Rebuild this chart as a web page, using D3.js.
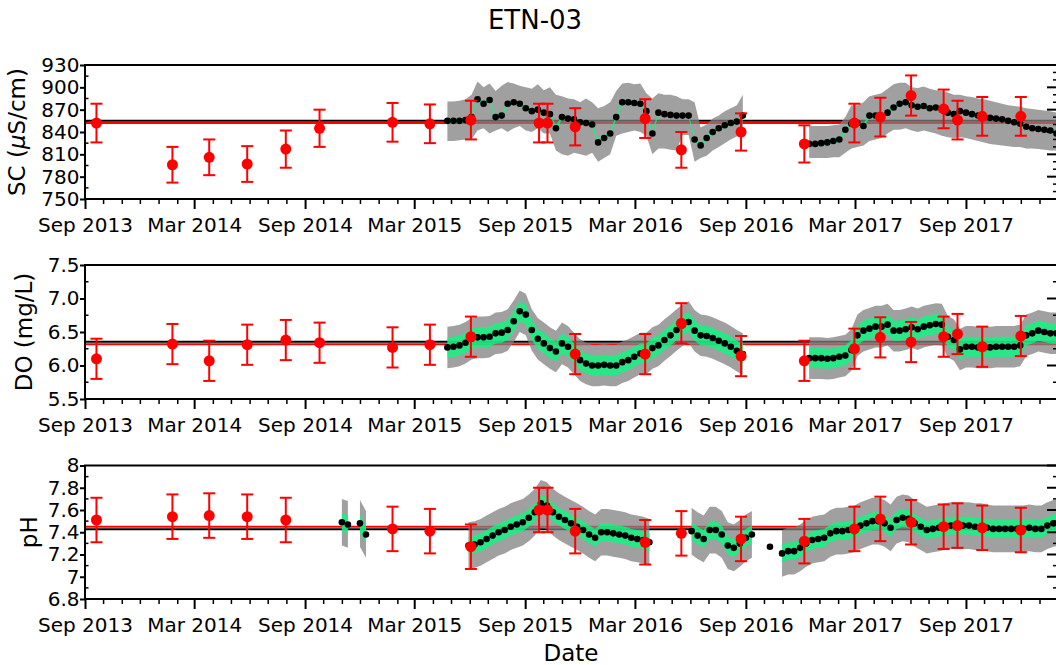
<!DOCTYPE html>
<html>
<head>
<meta charset="utf-8">
<script src="https://cdn.jsdelivr.net/npm/d3@7"></script>
<style>
  body { margin: 0; background: #fff; }
  svg { display: block; font-family: "DejaVu Sans", sans-serif; }
</style>
</head>
<body>
<svg id="chart" width="1056" height="665"></svg>
<script>
// ---------------------------------------------------------------
// ETN-03 : specific conductance, dissolved oxygen and pH
// Model predictions (dots + confidence bands) and field samples
// ---------------------------------------------------------------

// Field sample dates and values
const obsDates = ["2013-09-20","2014-01-24","2014-03-26","2014-05-28","2014-07-31","2014-09-25",
  "2015-01-24","2015-03-27","2015-06-03","2015-09-24","2015-10-08","2015-11-23","2016-03-18",
  "2016-05-17","2016-08-24","2016-12-07","2017-02-28","2017-04-12","2017-06-02","2017-07-26",
  "2017-08-18","2017-09-28","2017-12-01"];
const scObs  = [852,796,806,797,817,845,853,851,856,852,852,847,858,816,840,824,852,860,889,871,856,861,861];
const scErr  = [26,24,24,24,25,25,26,26,26,26,26,25,26,24,25,25,26,26,27,26,26,26,26];
const doObs  = [6.10,6.32,6.07,6.31,6.38,6.34,6.27,6.31,6.43,null,null,6.17,6.17,6.63,6.14,6.07,6.25,6.42,6.35,6.43,6.47,6.28,6.44];
const doErr  = [0.3,0.3,0.3,0.3,0.3,0.3,0.3,0.3,0.3,0.3,0.3,0.3,0.3,0.3,0.3,0.3,0.3,0.3,0.3,0.3,0.3,0.3,0.3];
const phObs  = [7.51,7.54,7.55,7.54,7.51,null,7.43,7.41,7.27,7.60,7.60,7.41,7.31,7.39,7.34,7.32,7.43,7.52,7.49,7.45,7.46,7.44,7.42];
const phErr  = [0.2,0.2,0.2,0.2,0.2,0.2,0.2,0.2,0.2,0.2,0.2,0.2,0.2,0.2,0.2,0.2,0.2,0.2,0.2,0.2,0.2,0.2,0.2];

// Model predictions, one value every 10 days from the start date (null = no prediction)
const predStepDays = 10;
const scPredStart = "2015-04-25";
const scPred = [855,855,855,856,860,884,878,883,860,862, 878,880,878,872,868,870,866,864,845,860,
  858,857,853,852,850,826,832,838,860,880, 880,879,878,868,838,866,864,863,862,862,
  862,830,822,832,840,845,849,852,854,862, null,null,null,null,null,null,null,null,null,null,
  824,824,825,826,828,830,843,851,852,848, 862,862,860,866,873,878,880,876,874,875,
  872,873,870,866,864,868,866,864,862,860, 859,858,857,855,853,851,847,845,844,843, 842,838];
const scBandHi = [881,881,882,884,890,908,900,905,895,902, 907,905,902,900,898,904,896,900,890,888,
  885,884,880,885,880,872,875,880,895,905, 906,904,905,892,885,892,890,890,888,884,
  884,880,846,850,858,862,868,872,876,890, null,null,null,null,null,null,null,null,null,null,
  848,848,848,848,849,850,860,876,876,880, 888,890,892,898,904,906,906,900,899,901,
  898,896,895,893,890,890,888,887,885,884, 882,880,878,876,875,874,872,871,870,869, 868,866];
const scBandLo = [828,828,829,830,830,842,845,838,842,845, 840,845,848,842,840,845,838,838,815,810,
  808,812,810,808,812,800,805,810,835,838, 840,842,840,835,810,818,818,816,815,836,
  836,800,805,808,815,820,825,830,834,838, null,null,null,null,null,null,null,null,null,null,
  805,805,805,805,806,806,812,818,820,822, 828,830,832,838,843,843,845,842,840,842,
  840,838,835,833,832,833,832,830,828,826, 824,823,822,821,820,820,818,818,817,816, 815,815];
const scInnerHalf = 3;

const doPredStart = "2015-04-25";
const doPred = [6.27,6.28,6.30,6.34,6.40,6.42,6.42,6.43,6.48,6.49, 6.53,6.66,6.81,6.76,6.53,6.40,6.33,6.26,6.21,6.33,
  6.28,6.18,6.08,6.03,6.00,6.00,6.01,6.00,6.00,6.05, 6.08,6.13,6.18,6.18,6.26,6.30,6.38,6.45,6.53,6.60,
  6.65,6.52,6.45,6.44,6.41,6.37,6.33,6.28,6.22,6.17, null,null,null,null,null,null,null,null,null,null,
  6.11,6.11,6.11,6.10,6.11,6.13,6.15,6.23,6.45,6.52, 6.55,6.58,6.58,6.61,6.52,6.52,6.54,6.57,6.54,6.58,
  6.60,6.62,6.61,6.43,6.38,6.24,6.28,6.28,6.27,6.27, 6.27,6.28,6.28,6.28,6.28,6.30,6.45,6.48,6.52,6.50, 6.48,6.48];
const doOuterHalf = 0.31;
const doInnerHalf = 0.15;

const phPredStart = "2014-11-01";
const phPred = [7.49,7.47,null,7.48,7.38, null,null,null,null,null, null,null,null,null,null,null,null,null,null,null,
  null,7.28,7.29,7.31,7.34,7.37,7.40,7.42,7.45,7.47, 7.49,7.53,7.58,7.66,7.64,7.58,7.54,7.51,7.48,7.45,
  7.42,7.38,7.35,7.40,7.40,7.39,7.38,7.37,7.35,7.34, 7.33,7.31,null,null,null,null,null,null,7.41,7.37,
  7.34,7.42,7.42,7.38,7.28,7.26,7.30,7.35,7.38,null, null,7.27,null,7.21,7.23,7.23,7.26,7.30,7.33,7.34,
  7.35,7.39,7.41,7.41,7.42,7.43,7.46,7.48,7.50,7.50, 7.48,7.44,7.51,7.53,7.52,7.48,7.45,7.42,7.43,7.44,
  7.45,7.46,7.46,7.46,7.46,7.45,7.45,7.44,7.43,7.43, 7.43,7.43,7.43,7.43,7.44,7.43,7.43,7.46,7.48,7.49];
const phOuterHalf = 0.21;
const phInnerHalf = 0.08;

// Long-term means: predictions (black) and samples (red)
const scMeans = [855, 852];
const doMeans = [6.355, 6.316];
const phMeans = [7.426, 7.45];

// Axis ticks
const xTickDates  = ["2013-09-01","2014-03-01","2014-09-01","2015-03-01","2015-09-01","2016-03-01","2016-09-01","2017-03-01","2017-09-01"];
const xTickLabels = ["Sep 2013","Mar 2014","Sep 2014","Mar 2015","Sep 2015","Mar 2016","Sep 2016","Mar 2017","Sep 2017"];
const scTicks = [750,780,810,840,870,900,930];
const scTickLabels = ["750","780","810","840","870","900","930"];
const doTicks = [5.5,6.0,6.5,7.0,7.5];
const doTickLabels = ["5.5","6.0","6.5","7.0","7.5"];
const phTicks = [6.8,7.0,7.2,7.4,7.6,7.8,8.0];
const phTickLabels = ["6.8","7","7.2","7.4","7.6","7.8","8"];

// ---------------------------------------------------------------
const parse = d3.timeParse("%Y-%m-%d");
const svg = d3.select("#chart");
const L = 85, R = 1057;

const x = d3.scaleTime()
  .domain([parse("2013-09-01"), parse("2018-01-30")])
  .range([L, R]);

svg.append("defs").append("clipPath").attr("id", "plotclip")
  .append("rect").attr("x", L).attr("y", 0).attr("width", R - L).attr("height", 665);

svg.append("text")
  .attr("x", 535).attr("y", 29)
  .attr("text-anchor", "middle")
  .attr("font-size", 26)
  .text("ETN-03");

svg.append("text")
  .attr("x", 571).attr("y", 661)
  .attr("text-anchor", "middle")
  .attr("font-size", 23)
  .text("Date");

const panels = [
  { top: 65, bottom: 199, domain: [750, 930], ticks: scTicks, labels: scTickLabels,
    minorLeft: d3.range(765, 930, 30), minorRight: d3.range(760, 930, 10).filter(v => v % 30 !== 0),
    means: scMeans, start: scPredStart, pred: scPred,
    outer: i => [scBandLo[i], scBandHi[i]],
    inner: (v) => [v - scInnerHalf, v + scInnerHalf],
    obs: scObs, err: scErr, labelX: 25, label: "sc" },
  { top: 265, bottom: 399, domain: [5.5, 7.5], ticks: doTicks, labels: doTickLabels,
    minorLeft: [5.75, 6.25, 6.75, 7.25], minorRight: [5.75, 6.25, 6.75, 7.25],
    means: doMeans, start: doPredStart, pred: doPred,
    outer: (i, v) => [v - doOuterHalf, v + doOuterHalf],
    inner: (v) => [v - doInnerHalf, v + doInnerHalf],
    obs: doObs, err: doErr, labelX: 32, label: "DO (mg/L)" },
  { top: 465.5, bottom: 599, domain: [6.8, 8.0], ticks: phTicks, labels: phTickLabels,
    minorLeft: [6.9, 7.1, 7.3, 7.5, 7.7, 7.9], minorRight: [6.9, 7.1, 7.3, 7.5, 7.7, 7.9],
    means: phMeans, start: phPredStart, pred: phPred,
    outer: (i, v) => [v - phOuterHalf, v + phOuterHalf],
    inner: (v) => [v - phInnerHalf, v + phInnerHalf],
    obs: phObs, err: phErr, labelX: 37, label: "pH" }
];

const majorDates = xTickDates.map(parse);
const minorDates = d3.timeMonth.range(parse("2013-09-01"), parse("2018-01-31"))
  .filter(d => !majorDates.some(m => +m === +d));

panels.forEach(p => {
  const y = d3.scaleLinear().domain(p.domain).range([p.bottom, p.top]);
  const g = svg.append("g");
  const plot = g.append("g").attr("clip-path", "url(#plotclip)");

  // mean lines
  plot.append("line").attr("x1", L).attr("x2", R)
    .attr("y1", y(p.means[0])).attr("y2", y(p.means[0]))
    .attr("stroke", "#000").attr("stroke-width", 2);
  plot.append("line").attr("x1", L).attr("x2", R)
    .attr("y1", y(p.means[1])).attr("y2", y(p.means[1]))
    .attr("stroke", "#ff0000").attr("stroke-width", 2);

  // prediction records
  const start = parse(p.start);
  const recs = p.pred.map((v, i) => {
    if (v == null) return { date: d3.timeDay.offset(start, i * predStepDays), v: null };
    const o = p.outer(i, v), n = p.inner(v);
    return { date: d3.timeDay.offset(start, i * predStepDays), v, olo: o[0], ohi: o[1], ilo: n[0], ihi: n[1] };
  });

  const outerArea = d3.area().defined(d => d.v != null)
    .x(d => x(d.date)).y0(d => y(d.olo)).y1(d => y(d.ohi));
  const innerArea = d3.area().defined(d => d.v != null)
    .x(d => x(d.date)).y0(d => y(d.ilo)).y1(d => y(d.ihi));

  plot.append("path").datum(recs).attr("d", outerArea)
    .attr("fill", "#808080").attr("fill-opacity", 0.75);
  plot.append("path").datum(recs).attr("d", innerArea)
    .attr("fill", "#00ff7f").attr("fill-opacity", 0.75);

  plot.append("g").selectAll("circle")
    .data(recs.filter(d => d.v != null))
    .join("circle")
    .attr("cx", d => x(d.date)).attr("cy", d => y(d.v))
    .attr("r", 3.3).attr("fill", "#000");

  // field samples with error bars
  const samples = obsDates.map((s, i) => ({ date: parse(s), v: p.obs[i], e: p.err[i] }))
    .filter(d => d.v != null);
  const eb = plot.append("g").attr("stroke", "#ff0000").attr("stroke-width", 2);
  samples.forEach(d => {
    const cx = x(d.date), y0 = y(d.v - d.e), y1 = y(d.v + d.e);
    eb.append("line").attr("x1", cx).attr("x2", cx).attr("y1", y0).attr("y2", y1);
    eb.append("line").attr("x1", cx - 6).attr("x2", cx + 6).attr("y1", y0).attr("y2", y0);
    eb.append("line").attr("x1", cx - 6).attr("x2", cx + 6).attr("y1", y1).attr("y2", y1);
  });
  plot.append("g").selectAll("circle")
    .data(samples).join("circle")
    .attr("cx", d => x(d.date)).attr("cy", d => y(d.v))
    .attr("r", 5.5).attr("fill", "#ff0000");

  // frame
  g.append("rect").attr("x", L).attr("y", p.top)
    .attr("width", R - L).attr("height", p.bottom - p.top)
    .attr("fill", "none").attr("stroke", "#000").attr("stroke-width", 2);

  // bottom axis
  const xa = g.append("g").attr("transform", `translate(0,${p.bottom})`)
    .call(d3.axisBottom(x).tickValues(majorDates)
      .tickFormat((d, i) => xTickLabels[i]).tickSize(10).tickPadding(9));
  xa.select(".domain").remove();
  xa.selectAll("line").attr("stroke-width", 2);
  xa.selectAll("text").attr("font-size", 20).attr("font-family", "DejaVu Sans").attr("fill", "#000");

  const xm = g.append("g").attr("transform", `translate(0,${p.bottom})`)
    .call(d3.axisBottom(x).tickValues(minorDates).tickFormat("").tickSize(5));
  xm.select(".domain").remove();
  xm.selectAll("line").attr("stroke-width", 1.5);

  // left axis
  const ya = g.append("g").attr("transform", `translate(${L},0)`)
    .call(d3.axisLeft(y).tickValues(p.ticks)
      .tickFormat((d, i) => p.labels[i]).tickSize(5).tickPadding(0.5));
  ya.select(".domain").remove();
  ya.selectAll("line").attr("stroke-width", 2);
  ya.selectAll("text").attr("font-size", 20).attr("font-family", "DejaVu Sans").attr("fill", "#000");

  g.append("g").selectAll("line").data(p.minorLeft).join("line")
    .attr("x1", L).attr("x2", L + 3.5)
    .attr("y1", d => y(d)).attr("y2", d => y(d))
    .attr("stroke", "#000").attr("stroke-width", 1.5);

  // right-hand ticks (inward)
  g.append("g").selectAll("line").data(p.ticks).join("line")
    .attr("x1", R - 10).attr("x2", R)
    .attr("y1", d => y(d)).attr("y2", d => y(d))
    .attr("stroke", "#000").attr("stroke-width", 2);
  g.append("g").selectAll("line").data(p.minorRight).join("line")
    .attr("x1", R - 4).attr("x2", R)
    .attr("y1", d => y(d)).attr("y2", d => y(d))
    .attr("stroke", "#000").attr("stroke-width", 1.5);

  // y label
  const cy = (p.top + p.bottom) / 2;
  const lab = g.append("text")
    .attr("transform", `translate(${p.labelX},${cy}) rotate(-90)`)
    .attr("text-anchor", "middle")
    .attr("font-size", 23);
  if (p.label === "sc") {
    lab.append("tspan").text("SC (");
    lab.append("tspan").attr("font-style", "italic").text("μ");
    lab.append("tspan").text("S/cm)");
  } else {
    lab.text(p.label);
  }
});
</script>
</body>
</html>
